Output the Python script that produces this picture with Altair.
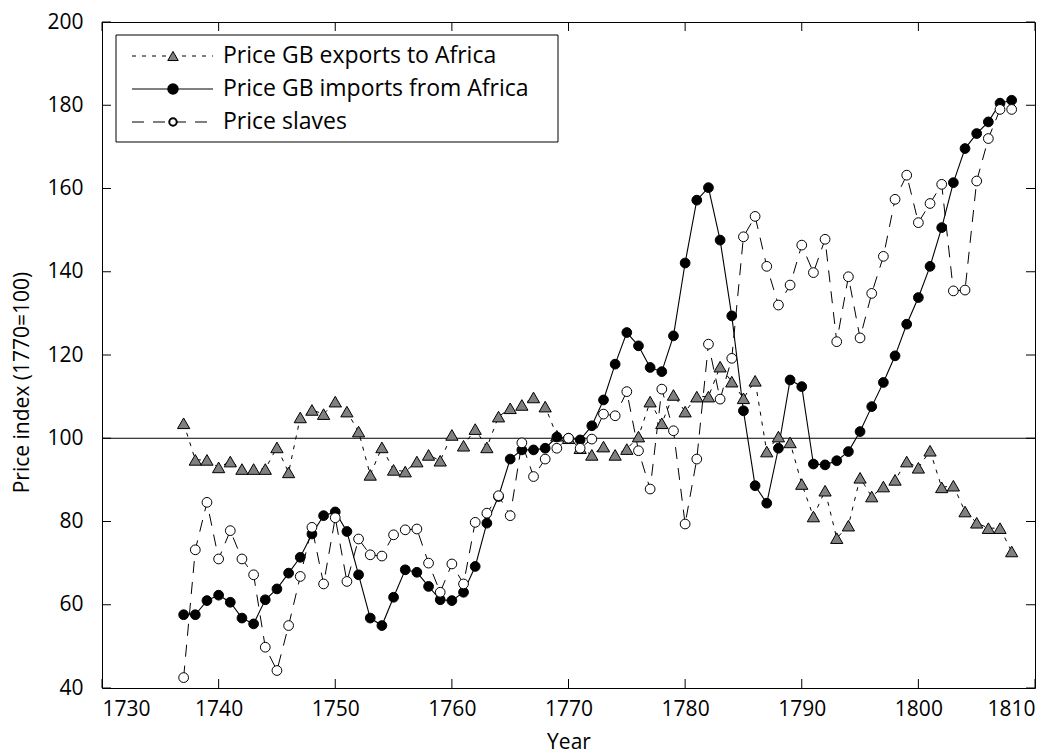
import altair as alt
import pandas as pd

years = list(range(1737, 1809))

exports = [103.6, 94.8, 94.8, 93.0, 94.4, 92.6, 92.6, 92.6, 97.8, 91.8,
           105.0, 106.8, 105.8, 108.8, 106.4, 101.6, 91.2, 97.8, 92.4, 92.0,
           94.4, 96.0, 94.6, 100.8, 98.2, 102.2, 97.8, 105.2, 107.2, 108.0,
           109.8, 107.6, 100.6, 100.0, 97.6, 96.0, 98.0, 96.0, 97.4, 100.4,
           108.8, 103.6, 110.4, 106.4, 110.0, 110.0, 117.2, 113.6, 109.6, 113.8,
           96.8, 100.4, 99.0, 89.0, 81.2, 87.4, 76.0, 79.0, 90.5, 86.0,
           88.4, 90.0, 94.4, 92.9, 97.0, 88.2, 88.6, 82.4, 79.7, 78.4,
           78.4, 72.8]

imports = [57.6, 57.6, 61.0, 62.3, 60.6, 56.8, 55.4, 61.2, 63.8, 67.6,
           71.4, 77.0, 81.4, 82.3, 77.6, 67.2, 56.8, 55.0, 61.8, 68.4,
           67.8, 64.4, 61.2, 61.0, 63.0, 69.2, 79.6, 86.0, 95.0, 97.2,
           97.2, 97.6, 100.3, 100.0, 99.6, 103.0, 109.2, 117.8, 125.4, 122.2,
           117.0, 116.0, 124.6, 142.1, 157.2, 160.2, 147.6, 129.4, 106.6, 88.6,
           84.4, 97.6, 114.0, 112.4, 93.8, 93.6, 94.6, 96.8, 101.6, 107.6,
           113.4, 119.8, 127.4, 133.8, 141.3, 150.6, 161.4, 169.6, 173.2, 176.0,
           180.5, 181.2]

slaves = [42.5, 73.2, 84.6, 71.0, 77.8, 71.0, 67.2, 49.8, 44.2, 55.0,
          66.8, 78.6, 65.0, 80.9, 65.6, 75.8, 72.0, 71.7, 76.8, 78.0,
          78.2, 70.0, 63.0, 69.8, 65.0, 79.8, 82.0, 86.2, 81.4, 98.9,
          90.8, 95.0, 97.6, 100.0, 97.6, 99.8, 105.8, 105.4, 111.2, 97.0,
          87.8, 111.8, 101.8, 79.4, 95.0, 122.6, 109.4, 119.2, 148.4, 153.3,
          141.3, 132.0, 136.8, 146.4, 139.8, 147.8, 123.2, 138.8, 124.1, 134.8,
          143.7, 157.4, 163.2, 151.8, 156.4, 161.0, 135.4, 135.6, 161.8, 172.0,
          179.0, 179.0]

labels = ["Price GB exports to Africa", "Price GB imports from Africa", "Price slaves"]
x_ticks = list(range(1730, 1811, 10))
y_ticks = list(range(40, 201, 20))
ref_value = [100]

W, H = 933, 666
FONT = "Open Sans"
TICK = 9

df_e = pd.DataFrame({"year": years, "v": exports})
df_i = pd.DataFrame({"year": years, "v": imports})
df_s = pd.DataFrame({"year": years, "v": slaves})

xs = alt.Scale(domain=[1730, 1810], nice=False, zero=False)
ys = alt.Scale(domain=[40, 200], nice=False, zero=False)

X = alt.X("year:Q", scale=xs, axis=alt.Axis(
    title="Year", values=x_ticks, format="d", grid=False, ticks=False, domain=False,
    labelFontSize=21, labelFont=FONT, labelColor="black", labelPadding=10,
    titleFontSize=21, titleFont=FONT, titleFontWeight="normal", titleColor="black",
    titleY=54, titleBaseline="middle"))
Y = alt.Y("v:Q", scale=ys, axis=alt.Axis(
    title="Price index (1770=100)", values=y_ticks, grid=False, ticks=False, domain=False,
    labelFontSize=21, labelFont=FONT, labelColor="black", labelPadding=19,
    titleFontSize=21, titleFont=FONT, titleFontWeight="normal", titleColor="black",
    titleX=-80, titleY=360, titleAngle=270, titleAlign="center", titleBaseline="middle"))

ref = alt.Chart(pd.DataFrame({"v": ref_value})).mark_rule(color="black", strokeWidth=1).encode(
    y=alt.Y("v:Q", scale=ys))

line_e = alt.Chart(df_e).mark_line(color="black", strokeWidth=1, strokeDash=[4, 6]).encode(x=X, y=Y)
line_i = alt.Chart(df_i).mark_line(color="black", strokeWidth=1.1).encode(x=X, y=Y)
line_s = alt.Chart(df_s).mark_line(color="black", strokeWidth=1, strokeDash=[12, 9]).encode(x=X, y=Y)

pt_e = alt.Chart(df_e).mark_point(shape="triangle-up", filled=True, fill="#808080",
                                  stroke="black", strokeWidth=1, size=150, opacity=1).encode(x=X, y=Y)
pt_i = alt.Chart(df_i).mark_point(shape="circle", filled=True, fill="black",
                                  stroke="black", strokeWidth=1, size=95, opacity=1).encode(x=X, y=Y)
pt_s = alt.Chart(df_s).mark_point(shape="circle", filled=True, fill="white",
                                  stroke="black", strokeWidth=1, size=95, opacity=1).encode(x=X, y=Y)

# inward ticks on all four sides
df_xt = pd.DataFrame({"t": x_ticks})
df_yt = pd.DataFrame({"t": y_ticks})
tick_style = dict(color="black", strokeWidth=1)
tb = alt.Chart(df_xt).mark_rule(**tick_style).encode(
    x=alt.X("t:Q", scale=xs), y=alt.value(H), y2=alt.value(H - TICK))
tt = alt.Chart(df_xt).mark_rule(**tick_style).encode(
    x=alt.X("t:Q", scale=xs), y=alt.value(0), y2=alt.value(TICK))
tl = alt.Chart(df_yt).mark_rule(**tick_style).encode(
    y=alt.Y("t:Q", scale=ys), x=alt.value(0), x2=alt.value(TICK))
tr = alt.Chart(df_yt).mark_rule(**tick_style).encode(
    y=alt.Y("t:Q", scale=ys), x=alt.value(W), x2=alt.value(W - TICK))

# legend (drawn inside the plot, top-left)
one = pd.DataFrame({"a": [0]})
LX0, LY0, LX1, LY1 = 14, 13, 456, 120
rows = [34, 67, 100]
lx_a, lx_b, lx_m, lx_t = 30, 111, 71, 121
box = alt.Chart(one).mark_rect(fill="white", stroke="black", strokeWidth=1).encode(
    x=alt.value(LX0), x2=alt.value(LX1), y=alt.value(LY0), y2=alt.value(LY1))
leg = [box]
dashes = [[4, 6], None, [12, 9]]
for k in range(3):
    rule_kw = dict(color="black", strokeWidth=1)
    if dashes[k] is not None:
        rule_kw["strokeDash"] = dashes[k]
    leg.append(alt.Chart(one).mark_rule(**rule_kw).encode(
        x=alt.value(lx_a), x2=alt.value(lx_b), y=alt.value(rows[k])))
    leg.append(alt.Chart(pd.DataFrame({"label": [labels[k]]})).mark_text(
        align="left", baseline="middle", font=FONT, fontSize=23, color="black").encode(
        x=alt.value(lx_t), y=alt.value(rows[k]), text="label:N"))
leg.append(alt.Chart(one).mark_point(shape="triangle-up", filled=True, fill="#808080",
                                     stroke="black", strokeWidth=1, size=110, opacity=1).encode(
    x=alt.value(lx_m), y=alt.value(rows[0])))
leg.append(alt.Chart(one).mark_point(shape="circle", filled=True, fill="black",
                                     stroke="black", size=90, opacity=1).encode(
    x=alt.value(lx_m), y=alt.value(rows[1])))
leg.append(alt.Chart(one).mark_point(shape="circle", filled=True, fill="white",
                                     stroke="black", size=55, opacity=1).encode(
    x=alt.value(lx_m), y=alt.value(rows[2])))

chart = alt.layer(ref, line_e, line_i, line_s, pt_e, pt_i, pt_s, tb, tt, tl, tr, *leg).properties(
    width=W, height=H,
    autosize=alt.AutoSizeParams(type="none"),
    padding={"left": 94, "top": 14, "right": 12, "bottom": 66},
    background="white",
).configure_view(stroke="black", strokeWidth=1)

chart.save("out.html", embed_options={"renderer": "svg", "actions": False})
